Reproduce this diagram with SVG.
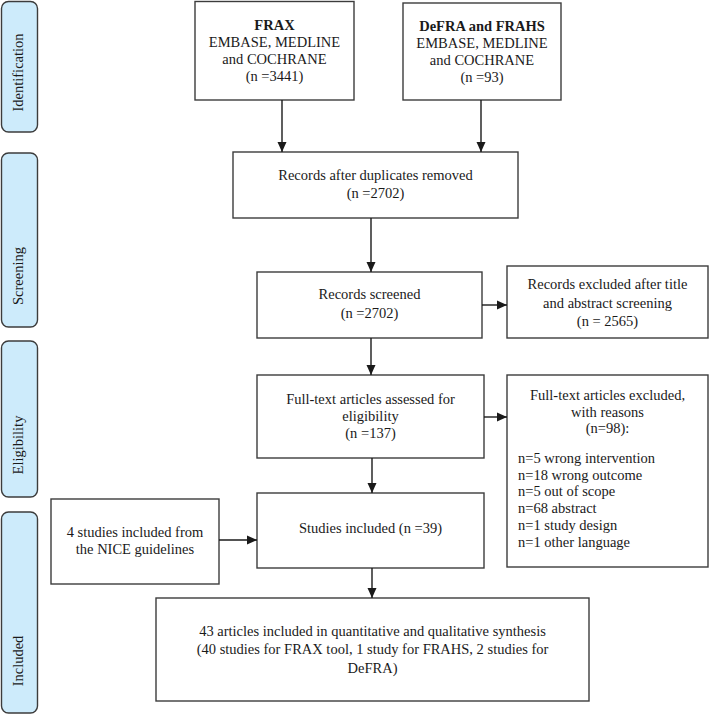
<svg xmlns="http://www.w3.org/2000/svg" width="709" height="715" viewBox="0 0 709 715">
<style>
.pill{fill:#cdebfb;stroke:#3c3c3c;stroke-width:1.4}
.box{fill:#ffffff;stroke:#3c3c3c;stroke-width:1.4}
text{font-family:"Liberation Serif","Times New Roman",serif;font-size:14.5px;fill:#1a1a1a}
.c{text-anchor:middle}
.b{font-weight:bold}
.con{stroke:#1a1a1a;stroke-width:1.4;fill:none;marker-end:url(#ah)}
</style>
<defs>
<marker id="ah" markerUnits="userSpaceOnUse" markerWidth="10" markerHeight="10" viewBox="0 0 10 10" refX="10" refY="5" orient="auto">
<path d="M0,0.5 L10,5 L0,9.5 Z" fill="#1a1a1a"/>
</marker>
</defs>
<rect width="709" height="715" fill="#ffffff"/>

<g id="phase-identification">
<rect class="pill" x="1.5" y="1.5" width="36" height="130.5" rx="7"/>
<text class="c" transform="translate(23,72.5) rotate(-90)">Identification</text>
</g>
<g id="phase-screening">
<rect class="pill" x="1.5" y="153" width="36" height="174" rx="7"/>
<text class="c" transform="translate(23,276) rotate(-90)">Screening</text>
</g>
<g id="phase-eligibility">
<rect class="pill" x="1.5" y="341" width="36" height="156" rx="7"/>
<text class="c" transform="translate(23,445) rotate(-90)">Eligibility</text>
</g>
<g id="phase-included">
<rect class="pill" x="1.5" y="512" width="36" height="201" rx="7"/>
<text class="c" transform="translate(23,661) rotate(-90)">Included</text>
</g>

<g id="frax">
<rect class="box" x="195" y="1.5" width="159" height="98.5"/>
<text class="c b" x="274.5" y="30">FRAX</text>
<text class="c" x="274.5" y="47">EMBASE, MEDLINE</text>
<text class="c" x="274.5" y="64">and COCHRANE</text>
<text class="c" x="274.5" y="81">(n =3441)</text>
</g>
<g id="defra">
<rect class="box" x="403" y="3" width="158" height="97"/>
<text class="c b" x="482" y="31">DeFRA and FRAHS</text>
<text class="c" x="482" y="47.5">EMBASE, MEDLINE</text>
<text class="c" x="482" y="64.5">and COCHRANE</text>
<text class="c" x="482" y="81.5">(n =93)</text>
</g>
<g id="duplicates">
<rect class="box" x="233" y="152" width="285" height="66"/>
<text class="c" x="375.5" y="180">Records after duplicates removed</text>
<text class="c" x="375.5" y="198">(n =2702)</text>
</g>
<g id="screened">
<rect class="box" x="257" y="272" width="225" height="66"/>
<text class="c" x="369.5" y="299">Records screened</text>
<text class="c" x="369.5" y="318">(n =2702)</text>
</g>
<g id="excluded-title">
<rect class="box" x="507" y="266" width="201" height="72"/>
<text class="c" x="607.5" y="289">Records excluded after title</text>
<text class="c" x="607.5" y="308">and abstract screening</text>
<text class="c" x="607.5" y="326">(n = 2565)</text>
</g>
<g id="fulltext">
<rect class="box" x="257" y="375" width="227" height="83"/>
<text class="c" x="370.5" y="404">Full-text articles assessed for</text>
<text class="c" x="370.5" y="421">eligibility</text>
<text class="c" x="370.5" y="438">(n =137)</text>
</g>
<g id="excluded-fulltext">
<rect class="box" x="507" y="375" width="201" height="192"/>
<text class="c" x="607.5" y="400">Full-text articles excluded,</text>
<text class="c" x="607.5" y="417">with reasons</text>
<text class="c" x="607.5" y="433">(n=98):</text>
<text x="518" y="463">n=5 wrong intervention</text>
<text x="518" y="479.5">n=18 wrong outcome</text>
<text x="518" y="496">n=5 out of scope</text>
<text x="518" y="513">n=68 abstract</text>
<text x="518" y="530">n=1 study design</text>
<text x="518" y="547">n=1 other language</text>
</g>
<g id="studies">
<rect class="box" x="257" y="493" width="227" height="75"/>
<text class="c" x="370.5" y="533">Studies included (n =39)</text>
</g>
<g id="nice">
<rect class="box" x="51" y="499" width="168" height="85"/>
<text class="c" x="135" y="537">4 studies included from</text>
<text class="c" x="135" y="554">the NICE guidelines</text>
</g>
<g id="synthesis">
<rect class="box" x="156" y="598" width="433" height="103"/>
<text class="c" x="372.5" y="636">43 articles included in quantitative and qualitative synthesis</text>
<text class="c" x="372.5" y="654">(40 studies for FRAX tool, 1 study for FRAHS, 2 studies for</text>
<text class="c" x="372.5" y="673">DeFRA)</text>
</g>

<g id="connectors">
<path class="con" d="M282,100 V152"/>
<path class="con" d="M481,100 V152"/>
<path class="con" d="M371,218 V272"/>
<path class="con" d="M482,305 H507"/>
<path class="con" d="M371,338 V375"/>
<path class="con" d="M484,417 H507"/>
<path class="con" d="M372,458 V493"/>
<path class="con" d="M219,540 H257"/>
<path class="con" d="M372,568 V598"/>
</g>
</svg>
